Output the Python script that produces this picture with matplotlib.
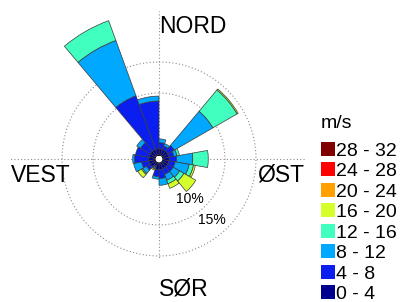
import numpy as np
import matplotlib.pyplot as plt
from matplotlib.patches import Rectangle

plt.rcParams['font.family'] = ['Liberation Sans', 'DejaVu Sans']

W, H = 411, 302

# retning (grader fra nord, med klokka), sektorbredde 20 grader
directions = [10, 30, 50, 70, 90, 110, 130, 150, 170, 190, 210, 230, 250, 270, 290, 310, 330, 350]

speed_labels = ['0 - 4', '4 - 8', '8 - 12', '12 - 16', '16 - 20', '20 - 24', '24 - 28', '28 - 32']
speed_colors = ['#00008f', '#0a1ef0', '#00a8ff', '#40ffbf', '#d4ff2a', '#ffa000', '#ff0000', '#800000']

# frekvens (%) per hastighetsklasse, en verdi per retning
freq_0_4 = [1.0, 1.0, 1.0, 1.0, 1.0, 1.0, 1.0, 1.0, 1.1, 1.1, 0.6, 1.0, 1.0, 1.0, 1.0, 1.0, 1.0, 1.0]
freq_4_8 = [1.0, 0.6, 1.2, 0.8, 1.2, 1.0, 1.0, 1.0, 1.4, 1.1, 0.2, 0.7, 1.2, 2.3, 2.2, 1.8, 9.2, 7.7]
freq_8_12 = [0.6, 0.4, 7.2, 0.5, 2.6, 2.3, 1.2, 1.0, 1.1, 0.4, 0.2, 0.7, 1.3, 0.3, 0.0, 0.7, 9.5, 0.8]
freq_12_16 = [0.0, 0.0, 4.5, 0.4, 2.5, 0.7, 0.8, 0.6, 0.0, 0.0, 0.1, 0.2, 0.0, 0.0, 0.0, 0.0, 3.4, 0.0]
freq_16_20 = [0.0, 0.0, 0.2, 0.0, 0.0, 0.3, 2.2, 0.8, 0.0, 0.0, 0.2, 0.7, 0.0, 0.0, 0.0, 0.0, 0.0, 0.0]
freq_20_24 = [0.0] * 18
freq_24_28 = [0.0] * 18
freq_28_32 = [0.0] * 18

freqs = [freq_0_4, freq_4_8, freq_8_12, freq_12_16, freq_16_20, freq_20_24, freq_24_28, freq_28_32]

fig = plt.figure(figsize=(W / 100, H / 100), dpi=100)

# polaraksen: sentrum i (159, 159) px, 6.2 px per %, hull i midten
scale = 6.2
hole = 4 / scale
rmax = 25
rad = (rmax + hole) * scale
cx, cy = 159, 159
ax = fig.add_axes([(cx - rad) / W, (H - cy - rad) / H, 2 * rad / W, 2 * rad / H], projection='polar')
ax.set_theta_zero_location('N')
ax.set_theta_direction(-1)
ax.set_rorigin(-hole)
ax.set_ylim(0, rmax)
ax.set_xticks([])
ax.set_yticks([])
ax.grid(False)
for s in ax.spines.values():
    s.set_visible(False)
ax.patch.set_alpha(0)

theta = np.deg2rad(directions)
width = np.deg2rad(20)

# hjelpelinjer
dots = dict(color='#8c8c8c', lw=0.8, linestyle=(0, (1, 2)), zorder=1)
circ = np.linspace(0, 2 * np.pi, 400)
for r in [10, 15]:
    ax.plot(circ, np.full_like(circ, r), **dots)
for ang, r_end in [(0, 23.3), (90, 23.0), (180, 15.3), (270, 23.4)]:
    ax.plot([np.deg2rad(ang)] * 2, [0, r_end], **dots)

# stablede soyler
bottom = np.zeros(len(directions))
for f, c in zip(freqs, speed_colors):
    f = np.array(f)
    m = f > 0
    if m.any():
        ax.bar(theta[m], f[m], width=width, bottom=bottom[m], color=c,
               edgecolor='#3a3a3a', linewidth=0.5, zorder=3)
    bottom += f

def px(x, y):
    return x / W, 1 - y / H

big = 16.5
fig.text(*px(159, 33), 'NORD', fontsize=big, va='baseline', ha='left')
fig.text(*px(159, 296), 'SØR', fontsize=big, va='baseline', ha='left')
fig.text(*px(11, 182), 'VEST', fontsize=big, va='baseline', ha='left')
fig.text(*px(257, 182), 'ØST', fontsize=big, va='baseline', ha='left')
fig.text(*px(176, 203), '10%', fontsize=10, va='baseline', ha='left')
fig.text(*px(198, 224), '15%', fontsize=10, va='baseline', ha='left')

# forklaring
fig.text(*px(321, 128), 'm/s', fontsize=14, va='baseline', ha='left')
for i in range(len(speed_labels)):
    k = len(speed_labels) - 1 - i
    yc = 148.7 + i * 20.5
    x0, y0 = px(321, yc + 7)
    fig.patches.append(Rectangle((x0, y0), 14 / W, 14 / H, transform=fig.transFigure,
                                 facecolor=speed_colors[k], edgecolor='none'))
    fig.text(*px(336, yc + 7), speed_labels[k], fontsize=14, va='baseline', ha='left')

fig.savefig('out.png', dpi=100)
